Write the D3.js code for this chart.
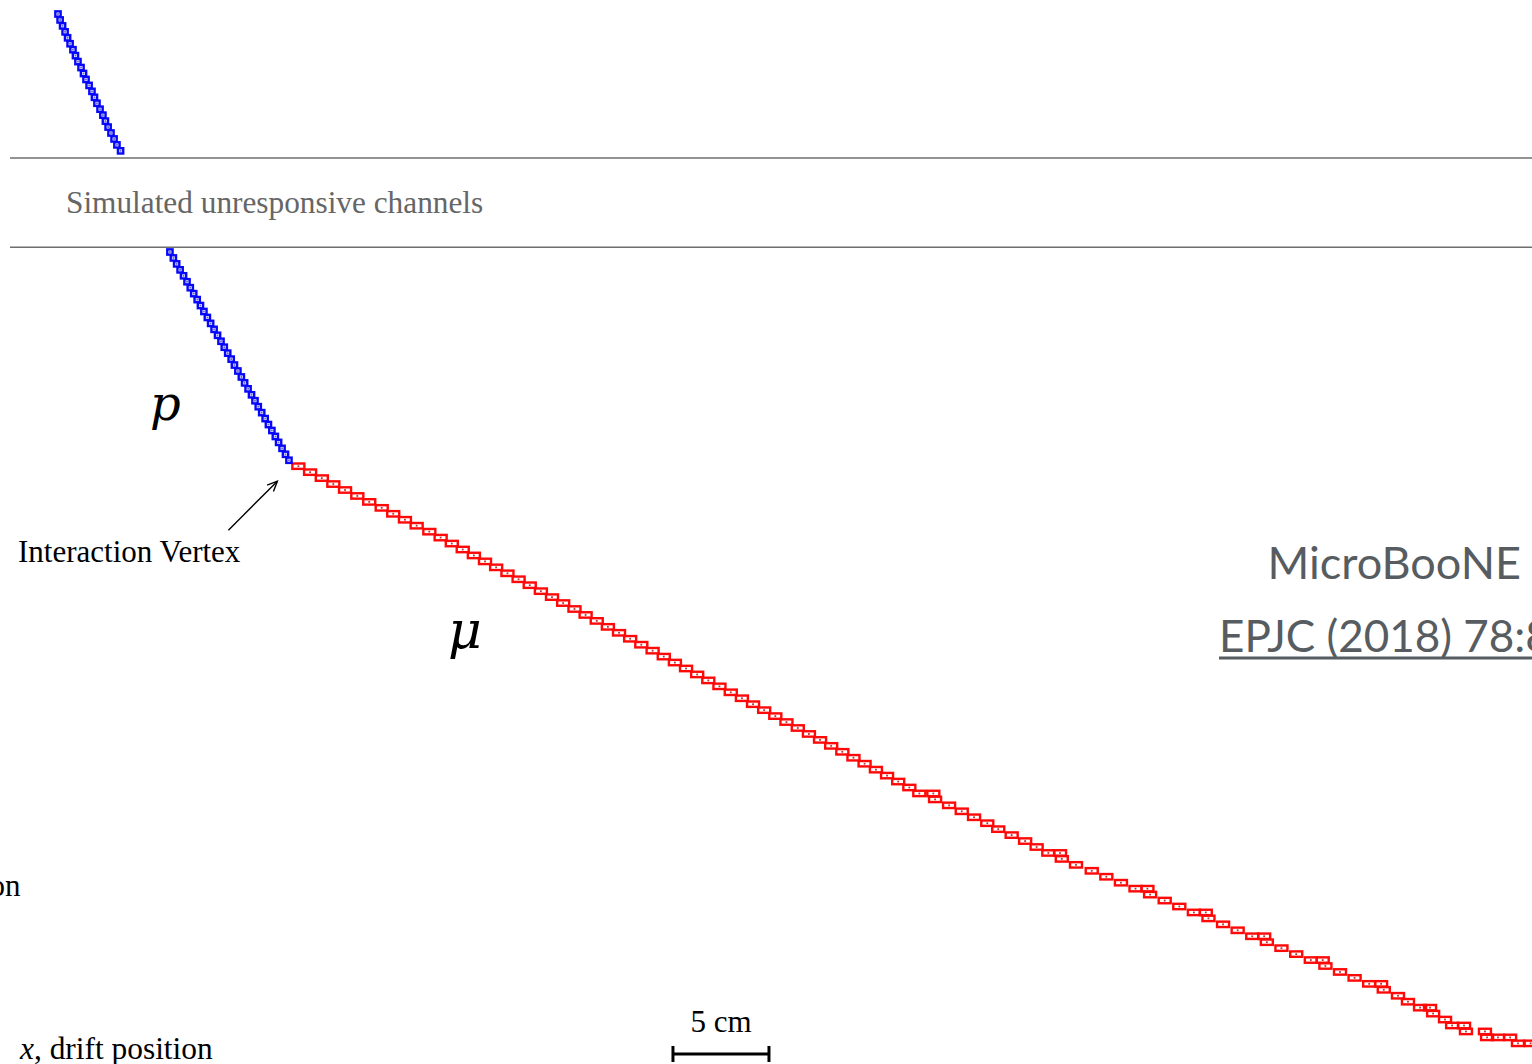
<!DOCTYPE html>
<html>
<head>
<meta charset="utf-8">
<script src="https://cdn.jsdelivr.net/npm/d3@7"></script>
<style>
  html, body { margin: 0; padding: 0; background: #ffffff; overflow: hidden; }
  svg { display: block; }
</style>
</head>
<body>
<svg id="display" width="1532" height="1064"></svg>
<script>
// ---- Event data: hits on the collection plane (wire number, drift position in cm) ----

// proton track above the unresponsive region, one hit per wire starting at wire 0
const protonUpperFirstWire = 0;
const protonUpperDrift = [
  3.02, 3.13, 3.26, 3.39, 3.52, 3.65, 3.80, 3.93, 4.06, 4.22, 4.35, 4.48,
  4.64, 4.79, 4.92, 5.05, 5.21, 5.36, 5.49, 5.63, 5.78, 5.94, 6.09, 6.28
];

// proton track below the unresponsive region, one hit per wire starting at wire 40
const protonLowerFirstWire = 40;
const protonLowerDrift = [
  8.85, 9.03, 9.20, 9.38, 9.56, 9.74, 9.91, 10.09, 10.27, 10.44, 10.62, 10.80,
  10.97, 11.15, 11.33, 11.51, 11.68, 11.86, 12.04, 12.21, 12.39, 12.57, 12.74, 12.92,
  13.10, 13.28, 13.45, 13.63, 13.81, 13.98, 14.16, 14.34, 14.51, 14.69, 14.87, 15.05
];

// muon track hits [wire, drift cm]; shallow sections give several hits per wire
const muonHits = [
  [76, 15.54], [77, 16.15], [78, 16.76], [79, 17.36], [80, 17.97], [81, 18.61],
  [82, 19.23], [83, 19.88], [84, 20.48], [85, 21.09], [86, 21.70], [87, 22.36],
  [88, 22.95], [89, 23.53], [90, 24.10], [91, 24.68], [92, 25.26], [93, 25.84],
  [94, 26.43], [95, 27.01], [96, 27.59], [97, 28.17], [98, 28.75], [99, 29.33],
  [100, 29.92], [101, 30.50], [102, 31.08], [103, 31.66], [104, 32.24], [105, 32.82],
  [106, 33.40], [107, 33.99], [108, 34.57], [109, 35.15], [110, 35.73], [111, 36.31],
  [112, 36.89], [113, 37.47], [114, 38.06], [115, 38.64], [116, 39.22], [117, 39.80],
  [118, 40.38], [119, 40.96], [120, 41.55], [121, 42.13], [122, 42.71], [123, 43.29],
  [124, 43.87], [125, 44.45], [126, 45.03], [127, 45.62], [128, 46.20], [129, 46.78],
  [130, 47.36], [131, 47.88], [131, 48.61], [132, 48.70], [133, 49.43], [134, 50.09],
  [135, 50.73], [136, 51.42], [137, 51.99], [138, 52.69], [139, 53.39], [140, 53.99],
  [141, 54.60], [141, 55.21], [142, 55.30], [143, 56.04], [144, 56.86], [145, 57.62],
  [146, 58.38], [147, 59.14], [147, 59.76], [148, 59.90], [149, 60.66], [150, 61.42],
  [151, 62.18], [151, 62.80], [152, 62.94], [153, 63.70], [154, 64.46], [155, 65.22],
  [155, 65.84], [156, 65.98], [157, 66.74], [158, 67.51], [159, 68.27], [159, 68.89],
  [160, 69.03], [161, 69.79], [162, 70.55], [163, 71.31], [163, 71.93], [164, 72.07],
  [165, 72.81], [166, 73.33], [167, 73.96], [167, 74.48], [168, 74.64], [169, 75.26],
  [170, 75.63], [170, 76.25], [171, 76.35], [171, 77.34], [172, 77.45], [172, 78.02],
  [172, 78.65], [173, 79.06], [173, 79.72]
];

// edges of the band of simulated unresponsive channels (in wire units)
const deadBandEdges = [24.2, 39.2];

// scale bar length in cm
const scaleBarLength = 5;

// ---- Layout ----
const W = 1532, H = 1064;
const svg = d3.select("#display");

const wirePitchPx = 5.95;
const x = d3.scaleLinear().domain([0, 79.79]).range([0, W]);          // drift, cm
const y = d3.scaleLinear().domain([0, 170]).range([14, 14 + 170 * wirePitchPx]); // wire number

const serif = "'Liberation Serif', 'Times New Roman', serif";
const serifItalic = "'DejaVu Serif', serif";
const sans = "Lato, 'Open Sans', sans-serif";

// unresponsive channel band
const band = svg.append("g");
band.selectAll("line").data(deadBandEdges).join("line")
  .attr("x1", 10).attr("x2", W)
  .attr("y1", d => y(d)).attr("y2", d => y(d))
  .attr("stroke", "#6e6e6e").attr("stroke-width", 1.6);
band.append("text")
  .attr("x", 66).attr("y", 213)
  .attr("font-family", serif).attr("font-size", 31.3)
  .attr("fill", "#666666")
  .text("Simulated unresponsive channels");

// hit boxes
function drawHits(g, hits, w, h, color, dotColor) {
  const sel = g.selectAll("g.hit").data(hits).join("g").attr("class", "hit")
    .attr("transform", d => `translate(${x(d[1])},${y(d[0])})`);
  sel.append("rect")
    .attr("x", -w / 2).attr("y", -h / 2).attr("width", w).attr("height", h)
    .attr("fill", "none").attr("stroke", color).attr("stroke-width", 2.4);
  sel.append("rect")
    .attr("x", -0.9).attr("y", -0.9).attr("width", 1.8).attr("height", 1.8)
    .attr("fill", dotColor);
}

const muonLayer = svg.append("g");
drawHits(muonLayer, muonHits, 12.0, 5.4, "#ff0808", "#b03a3a");

const protonHits = protonUpperDrift.map((d, i) => [protonUpperFirstWire + i, d])
  .concat(protonLowerDrift.map((d, i) => [protonLowerFirstWire + i, d]));
const protonLayer = svg.append("g");
drawHits(protonLayer, protonHits, 5.3, 5.3, "#0808f8", "#6a6ac8");

// particle labels
svg.append("text")
  .attr("x", 150).attr("y", 420)
  .attr("font-family", serifItalic).attr("font-style", "italic").attr("font-size", 48)
  .attr("fill", "#000").text("p");
svg.append("text")
  .attr("x", 448).attr("y", 648)
  .attr("font-family", serifItalic).attr("font-style", "italic").attr("font-size", 52)
  .attr("fill", "#000").text("\u03bc");

// interaction vertex annotation
const vx = x(muonHits[0][1]), vy = y(muonHits[0][0]);
const tip = [vx - 21, vy + 15], tail = [vx - 70, vy + 64];
const ang = Math.atan2(tip[1] - tail[1], tip[0] - tail[0]);
const ah = 11, aw = 0.42;
svg.append("line")
  .attr("x1", tail[0]).attr("y1", tail[1]).attr("x2", tip[0]).attr("y2", tip[1])
  .attr("stroke", "#000").attr("stroke-width", 1.4);
svg.append("path")
  .attr("d", d3.line()([
    [tip[0] - ah * Math.cos(ang - aw), tip[1] - ah * Math.sin(ang - aw)],
    tip,
    [tip[0] - ah * Math.cos(ang + aw), tip[1] - ah * Math.sin(ang + aw)]
  ]))
  .attr("fill", "none").attr("stroke", "#000").attr("stroke-width", 1.4);
svg.append("text")
  .attr("x", 18).attr("y", 562)
  .attr("font-family", serif).attr("font-size", 31)
  .attr("fill", "#000").text("Interaction Vertex");

// experiment tag and reference
svg.append("text")
  .attr("x", 1521).attr("y", 579).attr("text-anchor", "end")
  .attr("font-family", sans).attr("font-size", 45)
  .attr("fill", "#575c61").text("MicroBooNE");
svg.append("text")
  .attr("x", 1219).attr("y", 652)
  .attr("font-family", sans).attr("font-size", 44)
  .attr("fill", "#575c61").text("EPJC (2018) 78:82");
svg.append("line")
  .attr("x1", 1219).attr("x2", W + 10).attr("y1", 658).attr("y2", 658)
  .attr("stroke", "#575c61").attr("stroke-width", 3);

// axis direction labels
svg.append("text")
  .attr("x", 20.5).attr("y", 896).attr("text-anchor", "end")
  .attr("font-family", serif).attr("font-size", 31)
  .attr("fill", "#000").text("wire position");
const xl = svg.append("text")
  .attr("x", 20).attr("y", 1059)
  .attr("font-family", serif).attr("font-size", 31.4).attr("fill", "#000");
xl.append("tspan").attr("font-style", "italic").text("x");
xl.append("tspan").text(", drift position");

// scale bar
const sbStart = 35.05;
const sb = svg.append("g");
const sbx0 = x(sbStart), sbx1 = x(sbStart + scaleBarLength), sby = 1054;
sb.append("line").attr("x1", sbx0).attr("x2", sbx1).attr("y1", sby).attr("y2", sby)
  .attr("stroke", "#000").attr("stroke-width", 3);
[sbx0, sbx1].forEach(px => sb.append("line")
  .attr("x1", px).attr("x2", px).attr("y1", sby - 8).attr("y2", sby + 8)
  .attr("stroke", "#000").attr("stroke-width", 3));
sb.append("text")
  .attr("x", (sbx0 + sbx1) / 2).attr("y", 1032).attr("text-anchor", "middle")
  .attr("font-family", serif).attr("font-size", 31)
  .attr("fill", "#000").text(scaleBarLength + " cm");
</script>
</body>
</html>
